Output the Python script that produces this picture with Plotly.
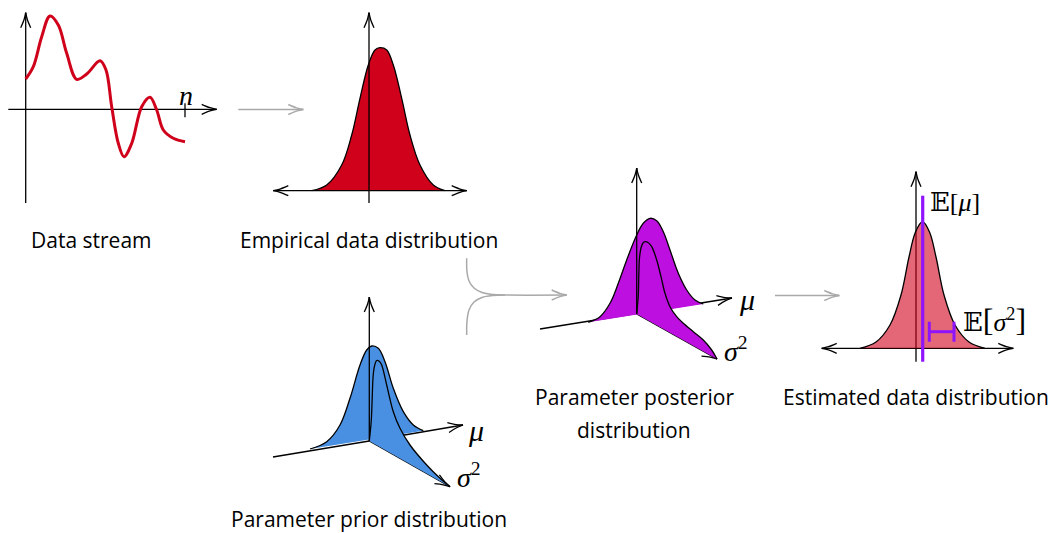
import numpy as np
import plotly.graph_objects as go

# ---------------- data (pixel-space diagram coordinates) -------------
RED = "#D0021B"
BLUE = "#4A90E2"
MAGENTA = "#BD10E0"
VIOLET = "#9013FE"
GRAY = "#a9a9a9"

# panel 1 : data stream
STREAM_X = [25.7, 33.3, 41.7, 50.0, 58.3, 66.7, 76.7, 86.7, 100.0, 106.0, 111.7, 118.3, 124.0,
            131.7, 141.7, 150.0, 156.7, 163.3, 173.3, 185.0]
STREAM_Y = [79.0, 66.7, 36.7, 16.0, 25.0, 53.3, 79.3, 74.0, 60.7, 70.0, 106.7, 143.3, 156.7,
            143.3, 106.7, 97.3, 110.0, 130.0, 138.3, 141.7]
STREAM_ORIGIN = (25.7, 109.3)
STREAM_VAXIS = (203.0, 12.7)          # y bottom, y top
STREAM_HAXIS = (8.3, 216.7)           # x left, x right
STREAM_TICK = (185.0, 103.3, 117.3)   # x, y top, y bottom

# panel 2 : empirical data distribution
EMP_X = [311.7, 326.7, 341.7, 351.7, 360.0, 368.3, 375.0, 380.0, 386.7, 393.3, 401.7, 410.0,
         420.0, 433.3, 445.0]
EMP_Y = [190.7, 185.0, 165.0, 135.0, 98.3, 65.0, 50.0, 47.7, 50.0, 65.0, 98.3, 135.0,
         165.0, 185.0, 190.7]
EMP_VAXIS = (369.0, 203.0, 12.7)
EMP_HAXIS = (190.7, 273.3, 466.7)

# panel 3 : parameter posterior
POST_ORIGIN = (636.7, 314.0)
POST_TOP = (636.7, 168.0)
POST_MU_START = (540.0, 329.0)
POST_MU_TIP = (732.0, 298.0)
POST_S_TIP = (717.0, 359.0)
POST_MU_X = [588.3, 600.0, 610.0, 618.3, 626.7, 636.7, 643.3, 650.0, 656.7, 663.3, 670.0,
             678.3, 686.7, 695.0, 703.3]
POST_MU_Y = [322.3, 316.7, 303.3, 283.3, 260.0, 235.0, 223.3, 218.3, 220.7, 231.7, 250.0,
             273.3, 290.0, 300.0, 304.0]
POST_S_X = [636.7, 638.3, 638.8, 639.5, 641.0, 643.0, 645.0, 648.0, 651.7, 656.7, 661.0,
            665.0, 670.0, 676.7, 683.3, 693.3, 703.3, 711.7, 717.0]
POST_S_Y = [314.0, 295.0, 275.0, 258.0, 248.0, 243.0, 241.7, 242.5, 246.7, 260.0, 276.7,
            293.3, 306.7, 316.7, 323.3, 331.7, 340.0, 350.0, 359.0]

# panel 4 : estimated data distribution
EST_X = [860.0, 876.0, 890.0, 901.0, 909.0, 915.5, 922.5, 929.5, 936.0, 944.0, 955.0, 969.0, 985.0]
EST_Y = [348.3, 342.0, 325.0, 295.0, 257.0, 232.0, 221.7, 232.0, 257.0, 295.0, 325.0, 342.0, 348.3]
EST_VAXIS = (916.0, 361.7, 171.7)
EST_HAXIS = (348.3, 821.7, 1013.3)
EST_MEAN = (922.7, 195.7, 361.7)
EST_VAR = (929.3, 954.0, 331.7, 321.7, 341.7)

# panel 5 : parameter prior
PRIOR_ORIGIN = (369.3, 441.0)
PRIOR_TOP = (369.3, 297.0)
PRIOR_MU_START = (273.0, 457.0)
PRIOR_MU_TIP = (463.0, 425.0)
PRIOR_S_TIP = (450.0, 486.7)
PRIOR_MU_X = [310.0, 326.7, 340.0, 350.0, 360.0, 366.7, 371.7, 378.3, 385.0, 393.3, 403.3,
              413.3, 423.3]
PRIOR_MU_Y = [449.0, 441.7, 425.0, 398.3, 365.0, 350.0, 346.0, 348.3, 361.7, 388.3, 411.7,
              425.0, 430.7]
PRIOR_S_X = [369.3, 371.3, 372.3, 373.0, 374.3, 376.7, 379.5, 381.7, 386.7, 393.3, 400.0,
             410.0, 426.7, 440.0, 450.0]
PRIOR_S_Y = [441.0, 420.0, 395.0, 378.0, 367.0, 360.5, 361.5, 365.0, 385.0, 411.7, 428.3,
             445.0, 465.0, 478.3, 486.7]

# gray flow arrows
FLOW1 = ((238.3, 109.5), (303.3, 109.5))
FLOW3 = ((775.0, 295.5), (839.3, 295.5))
MERGE_UP_X = [466.7, 467.0, 469.0, 474.0, 482.0, 493.0, 505.0, 566.7]
MERGE_UP_Y = [258.3, 272.0, 281.0, 288.0, 292.5, 294.5, 295.0, 295.0]
MERGE_LO_X = [466.7, 467.0, 469.0, 474.0, 482.0, 493.0, 505.0]
MERGE_LO_Y = [335.0, 321.0, 310.0, 302.0, 297.5, 295.5, 295.0]

# text labels: (x, y, text)
CAPTIONS = [
    (91, 240, "Data stream"),
    (369, 240, "Empirical data distribution"),
    (634, 397, "Parameter posterior"),
    (634, 430, "distribution"),
    (916, 397, "Estimated data distribution"),
    (369, 519, "Parameter prior distribution"),
]

# ---------------- figure ----------------
fig = go.Figure()


def line(xs, ys, color="black", width=1.3, spline=False):
    fig.add_trace(go.Scatter(x=list(xs), y=list(ys), mode="lines",
                             line=dict(color=color, width=width,
                                       shape="spline" if spline else "linear", smoothing=1.0),
                             hoverinfo="skip", showlegend=False))


def fill(xs, ys, color):
    fig.add_trace(go.Scatter(x=list(xs), y=list(ys), mode="lines", fill="toself",
                             fillcolor=color, line=dict(width=0, shape="spline", smoothing=1.0),
                             hoverinfo="skip", showlegend=False))


def head(tip, frm, color="black", width=1.3, L=15.0, W=5.0):
    t = np.array(tip, float)
    d = t - np.array(frm, float)
    d = d / np.linalg.norm(d)
    n = np.array([-d[1], d[0]])
    xs, ys = [], []
    for s in (1, -1):
        p0 = t - L * d + s * W * n
        p1 = t - 0.45 * L * d + s * 0.32 * W * n
        xs += [p0[0], p1[0], t[0], None]
        ys += [p0[1], p1[1], t[1], None]
    line(xs, ys, color=color, width=width, spline=True)


# ---- panel 1
ox, oy = STREAM_ORIGIN
line([ox, ox], [STREAM_VAXIS[0], STREAM_VAXIS[1]])
head((ox, STREAM_VAXIS[1]), (ox, oy))
line([STREAM_HAXIS[0], STREAM_HAXIS[1]], [oy, oy])
head((STREAM_HAXIS[1], oy), (ox, oy))
line([STREAM_TICK[0]] * 2, [STREAM_TICK[1], STREAM_TICK[2]])
line(STREAM_X, STREAM_Y, color=RED, width=3, spline=True)

# ---- panel 2
fill(EMP_X, EMP_Y, RED)
line(EMP_X, EMP_Y, spline=True)
vx, vb, vt = EMP_VAXIS
hy, hl, hr = EMP_HAXIS
line([hl, hr], [hy, hy])
head((hl, hy), (vx, hy))
head((hr, hy), (vx, hy))
line([vx, vx], [vb, vt])
head((vx, vt), (vx, hy))

# ---- panel 3 : posterior
line([POST_MU_START[0], POST_MU_TIP[0]], [POST_MU_START[1], POST_MU_TIP[1]])
head(POST_MU_TIP, POST_ORIGIN)
line([POST_ORIGIN[0], POST_S_TIP[0]], [POST_ORIGIN[1], POST_S_TIP[1]])
head(POST_S_TIP, POST_ORIGIN)
fill(POST_MU_X, POST_MU_Y, MAGENTA)
fill(POST_S_X, POST_S_Y, MAGENTA)
line(POST_MU_X, POST_MU_Y, spline=True)
line(POST_S_X, POST_S_Y, spline=True)
line([POST_ORIGIN[0], POST_TOP[0]], [POST_ORIGIN[1], POST_TOP[1]])
head(POST_TOP, POST_ORIGIN)

# ---- panel 5 : prior
line([PRIOR_ORIGIN[0], PRIOR_MU_TIP[0]], [PRIOR_ORIGIN[1], PRIOR_MU_TIP[1]])
head(PRIOR_MU_TIP, PRIOR_ORIGIN)
line([PRIOR_ORIGIN[0], PRIOR_S_TIP[0]], [PRIOR_ORIGIN[1], PRIOR_S_TIP[1]])
head(PRIOR_S_TIP, PRIOR_ORIGIN)
fill(PRIOR_MU_X, PRIOR_MU_Y, BLUE)
fill(PRIOR_S_X, PRIOR_S_Y, BLUE)
line(PRIOR_MU_X, PRIOR_MU_Y, spline=True)
line(PRIOR_S_X, PRIOR_S_Y, spline=True)
line([PRIOR_MU_START[0], PRIOR_ORIGIN[0]], [PRIOR_MU_START[1], PRIOR_ORIGIN[1]])
line([PRIOR_ORIGIN[0], PRIOR_TOP[0]], [PRIOR_ORIGIN[1], PRIOR_TOP[1]])
head(PRIOR_TOP, PRIOR_ORIGIN)

# ---- panel 4 : estimated
vx, vb, vt = EST_VAXIS
hy, hl, hr = EST_HAXIS
line([hl, hr], [hy, hy])
head((hl, hy), (vx, hy))
head((hr, hy), (vx, hy))
line([vx, vx], [vb, vt])
head((vx, vt), (vx, hy))
fill(EST_X, EST_Y, "rgba(208,2,27,0.6)")
line(EST_X, EST_Y, spline=True)
mx, mt, mb = EST_MEAN
line([mx, mx], [mt, mb], color=VIOLET, width=3.2)
ex0, ex1, ey, ecT, ecB = EST_VAR
line([ex0, ex1], [ey, ey], color=VIOLET, width=3)
line([ex0, ex0], [ecT, ecB], color=VIOLET, width=3)
line([ex1, ex1], [ecT, ecB], color=VIOLET, width=3)

# ---- gray flow arrows
for (a, b) in (FLOW1, FLOW3):
    line([a[0], b[0]], [a[1], b[1]], color=GRAY, width=1.5)
    head(b, a, color=GRAY, width=1.5)
line(MERGE_UP_X, MERGE_UP_Y, color=GRAY, width=1.5, spline=True)
line(MERGE_LO_X, MERGE_LO_Y, color=GRAY, width=1.5, spline=True)
head((MERGE_UP_X[-1], MERGE_UP_Y[-1]), (MERGE_UP_X[-2], MERGE_UP_Y[-2]), color=GRAY, width=1.5)

# ---- text
SANS = "Open Sans, Noto Sans, sans-serif"
SERIF = "Liberation Serif, DejaVu Serif, serif"
for (x, y, t) in CAPTIONS:
    fig.add_annotation(x=x, y=y, text=t, showarrow=False, xanchor="center", yanchor="middle",
                       borderpad=0, font=dict(family=SANS, size=21, color="black"))

MATH = [
    (186, 95, "<i>n</i>", "center", 28),
    (738, 299, "<i>μ</i>", "left", 30),
    (723, 349, "<i>σ</i><sup>2</sup>", "left", 28),
    (467, 430, "<i>μ</i>", "left", 30),
    (456, 475, "<i>σ</i><sup>2</sup>", "left", 28),
    (929, 202, "𝔼[<i>μ</i>]", "left", 26),
    (962, 320, "𝔼<span style=\"font-size:32px\">[</span><i>σ</i><sup>2</sup>"
               "<span style=\"font-size:32px\">]</span>", "left", 26),
]
for (x, y, t, anc, sz) in MATH:
    fig.add_annotation(x=x, y=y, text=t, showarrow=False, xanchor=anc, yanchor="middle",
                       borderpad=0, font=dict(family=SERIF, size=sz, color="black"))

fig.update_layout(
    width=1055, height=533, margin=dict(l=0, r=0, t=0, b=0),
    paper_bgcolor="white", plot_bgcolor="white",
    xaxis=dict(range=[0, 1055], visible=False, fixedrange=True),
    yaxis=dict(range=[533, 0], visible=False, fixedrange=True),
)
fig.write_html(
    "out.html",
    config={"displayModeBar": False},
    post_script="document.body.style.margin='0';document.body.style.overflow='hidden';",
)
